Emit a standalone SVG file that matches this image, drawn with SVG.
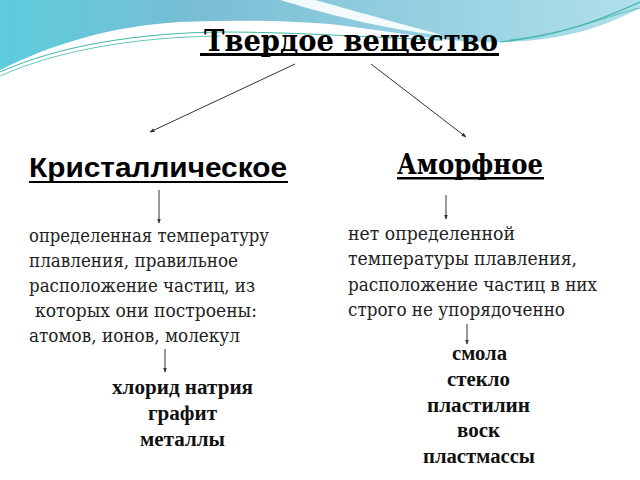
<svg xmlns="http://www.w3.org/2000/svg" width="640" height="480" viewBox="0 0 640 480">
<defs>
<linearGradient id="sky" x1="0" y1="0" x2="1" y2="0">
<stop offset="0" stop-color="#5ccbdc"/>
<stop offset="0.3" stop-color="#78bdd4"/>
<stop offset="0.7" stop-color="#98d2e2"/>
<stop offset="1" stop-color="#b0e0ea"/>
</linearGradient>
<marker id="ah" viewBox="0 0 10 10" refX="9" refY="5" markerWidth="5" markerHeight="5" orient="auto">
<path d="M0,1 L10,5 L0,9 Z" fill="#333"/>
</marker>
<style>
.conn{stroke:#333;stroke-width:1;fill:none;marker-end:url(#ah)}
.serif{font-family:'DejaVu Serif',serif}
.tserif{font-family:'Liberation Serif','DejaVu Serif',serif}
.body{font-size:19px;fill:#222}
.list{font-size:20px;font-weight:bold;fill:#111}
.head{font-weight:bold;fill:#000}
</style>
</defs>
<rect width="640" height="480" fill="#ffffff"/>
<g id="background">
<path d="M0,0 H640 V8 C610,24 570,40 505,42 C450,44 400,32 330,24 C280,20 230,20 180,22 C110,26 50,45 0,70 Z" fill="url(#sky)"/>
<path d="M280,0 C320,12 370,26 430,34 C460,38 420,30 380,18 C350,10 330,4 315,0 Z" fill="#ffffff" opacity="0.9"/>
<path d="M0,72 C60,45 140,33 220,32 C300,32 380,38 440,40" stroke="#3fb8a8" stroke-width="1" fill="none"/>
<path d="M0,76 C60,49 140,37 220,36" stroke="#3fb8a8" stroke-width="0.8" fill="none"/>
<path d="M500,42 C560,36 600,20 640,2" stroke="#3fb8a8" stroke-width="1.2" fill="none"/>
<path d="M510,40 C570,33 610,15 640,8" stroke="#3fb8a8" stroke-width="0.8" fill="none"/>
</g>
<g id="title">
<text class="head serif" x="204" y="51" font-size="30" textLength="294" lengthAdjust="spacingAndGlyphs">Твердое  вещество</text>
<rect x="200" y="53" width="299" height="3" fill="#000"/>
</g>
<g id="connectors">
<line class="conn" x1="295" y1="64" x2="150" y2="132"/>
<line class="conn" x1="371" y1="64" x2="466" y2="137"/>
<line class="conn" x1="159" y1="190" x2="159" y2="223"/>
<line class="conn" x1="446" y1="195" x2="446" y2="219"/>
<line class="conn" x1="165" y1="349" x2="165" y2="372"/>
<line class="conn" x1="467" y1="324" x2="467" y2="344"/>
</g>
<g id="crystal">
<text x="29" y="177" font-family="'Liberation Sans',Arial,sans-serif" font-weight="bold" font-size="27" fill="#000" textLength="258" lengthAdjust="spacingAndGlyphs">Кристаллическое</text>
<rect x="29" y="181" width="259" height="2" fill="#000"/>
</g>
<g id="amorph">
<text class="head serif" x="397" y="174" font-size="27" textLength="146" lengthAdjust="spacingAndGlyphs">Аморфное</text>
<rect x="397" y="177" width="147" height="2.5" fill="#000"/>
</g>
<g id="crystal-desc" class="serif">
<text class="body" x="29" y="242" textLength="240" lengthAdjust="spacingAndGlyphs">определенная температуру</text>
<text class="body" x="29" y="267" textLength="209" lengthAdjust="spacingAndGlyphs">плавления, правильное</text>
<text class="body" x="29" y="292" textLength="226" lengthAdjust="spacingAndGlyphs">расположение частиц, из</text>
<text class="body" x="35" y="317" textLength="222" lengthAdjust="spacingAndGlyphs">которых они построены:</text>
<text class="body" x="29" y="342" textLength="211" lengthAdjust="spacingAndGlyphs">атомов, ионов, молекул</text>
</g>
<g id="amorph-desc" class="serif">
<text class="body" x="348" y="240" textLength="167" lengthAdjust="spacingAndGlyphs">нет определенной</text>
<text class="body" x="348" y="265" textLength="229" lengthAdjust="spacingAndGlyphs">температуры плавления,</text>
<text class="body" x="348" y="291" textLength="249" lengthAdjust="spacingAndGlyphs">расположение частиц в них</text>
<text class="body" x="348" y="316" textLength="217" lengthAdjust="spacingAndGlyphs">строго не упорядоченно</text>
</g>
<g id="crystal-examples" class="tserif">
<text class="list" x="112" y="394" textLength="141" lengthAdjust="spacingAndGlyphs">хлорид натрия</text>
<text class="list" x="148" y="420" textLength="69" lengthAdjust="spacingAndGlyphs">графит</text>
<text class="list" x="140" y="446" textLength="85" lengthAdjust="spacingAndGlyphs">металлы</text>
</g>
<g id="amorph-examples" class="tserif">
<text class="list" x="452" y="360" textLength="55" lengthAdjust="spacingAndGlyphs">смола</text>
<text class="list" x="447" y="386" textLength="63" lengthAdjust="spacingAndGlyphs">стекло</text>
<text class="list" x="427" y="412" textLength="103" lengthAdjust="spacingAndGlyphs">пластилин</text>
<text class="list" x="457" y="437" textLength="43" lengthAdjust="spacingAndGlyphs">воск</text>
<text class="list" x="423" y="463" textLength="112" lengthAdjust="spacingAndGlyphs">пластмассы</text>
</g>
</svg>
